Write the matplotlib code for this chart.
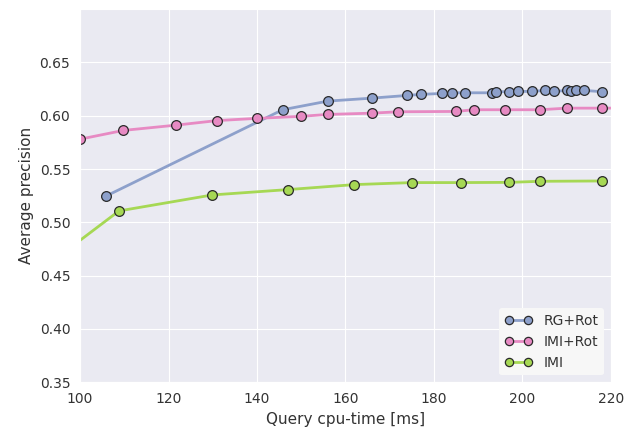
import matplotlib
matplotlib.use("Agg")
import matplotlib.pyplot as plt
import seaborn as sns

sns.set_style("darkgrid")
plt.rcParams['font.family'] = ['DejaVu Sans']

# Query cpu-time [ms] vs. average precision for each method
rg_rot_time = [105.9, 145.8, 156.0, 166.0, 173.9, 177.0, 181.9, 184.0, 187.0,
               193.0, 194.0, 197.0, 199.0, 202.1, 205.1, 207.1, 210.1, 211.0,
               212.0, 214.0, 218.0]
rg_rot_ap = [0.5247, 0.6056, 0.6137, 0.6165, 0.6190, 0.6200, 0.6209, 0.6215,
             0.6215, 0.6215, 0.6225, 0.6225, 0.6228, 0.6228, 0.6237, 0.6228,
             0.6237, 0.6230, 0.6237, 0.6237, 0.6225]

imi_rot_time = [100.0, 109.8, 121.8, 130.9, 139.9, 149.9, 156.0, 166.0, 171.9,
                184.9, 189.0, 196.0, 204.0, 210.0, 218.0, 226.0]
imi_rot_ap = [0.578, 0.5862, 0.5912, 0.5954, 0.5975, 0.5994, 0.6012, 0.6024,
              0.6037, 0.6040, 0.6056, 0.6056, 0.6056, 0.6071, 0.6071, 0.6072]

imi_time = [92.0, 108.8, 129.9, 146.9, 162.0, 175.0, 186.0, 197.0, 204.0, 218.0]
imi_ap = [0.458, 0.5107, 0.5257, 0.5307, 0.5354, 0.5373, 0.5373, 0.5375,
          0.5385, 0.5388]

series = [
    ("RG+Rot", rg_rot_time, rg_rot_ap, "#8da0cb"),
    ("IMI+Rot", imi_rot_time, imi_rot_ap, "#e78ac3"),
    ("IMI", imi_time, imi_ap, "#a6d854"),
]

fig = plt.figure(figsize=(6.33, 4.32), dpi=100)
ax = fig.add_axes([0.1264, 0.115, 0.8388, 0.864])

for label, t, ap, color in series:
    ax.plot(t, ap, "-o", color=color, lw=2, ms=7, mfc=color,
            mec="#2a2a2a", mew=0.9, label=label)

ax.set_xlim(100, 220)
ax.set_ylim(0.35, 0.70)
ax.set_xticks([100, 120, 140, 160, 180, 200, 220])
ax.set_yticks([0.35, 0.40, 0.45, 0.50, 0.55, 0.60, 0.65])
ax.set_yticklabels(["%.2f" % v for v in ax.get_yticks()])
ax.tick_params(labelsize=10, labelcolor="#333333")
ax.set_xlabel("Query cpu-time [ms]", fontsize=11, color="#333333")
ax.set_ylabel("Average precision", fontsize=11, color="#333333")

leg = ax.legend(loc="lower right", numpoints=2, frameon=True, fontsize=10,
                facecolor="#f7f7f7", edgecolor="none", framealpha=1.0,
                markerscale=0.85)
for txt in leg.get_texts():
    txt.set_color("#333333")

fig.savefig("out.png", dpi=100)
